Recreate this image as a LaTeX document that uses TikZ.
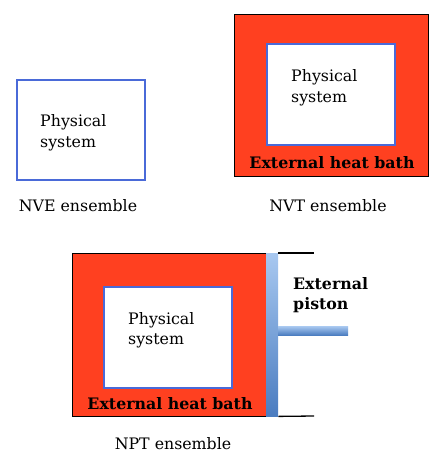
\documentclass[tikz,border=0pt]{standalone}
\usepackage{fontspec}
\setmainfont{DejaVu Serif}
\usetikzlibrary{shadows}
\definecolor{bath}{HTML}{FF4020}
\definecolor{sysblue}{HTML}{4A6AD8}
\definecolor{pistlight}{HTML}{A8C8F0}
\definecolor{pistdark}{HTML}{4A7CC0}
\begin{document}
\begin{tikzpicture}[x=1pt,y=-1pt,
  sysbox/.style={draw=sysblue, line width=1.8pt, fill=white, anchor=north west,
    drop shadow={shadow xshift=1.2pt, shadow yshift=-1.2pt, opacity=0.35}},
  bathbox/.style={draw=black, line width=1.3pt, fill=bath, anchor=north west},
  lbl/.style={font=\fontsize{15.8}{20.5}\selectfont, align=left, inner sep=0pt},
  blbl/.style={font=\fontsize{15.8}{20.5}\selectfont\bfseries, align=left, inner sep=0pt},
  pistonbar/.style={draw=none, top color=pistlight, bottom color=pistdark, anchor=north west, inner sep=0pt},
  wall/.style={line width=1.3pt, draw=black}
]
\useasboundingbox (0,0) rectangle (437,462);

% NVE
\node[sysbox, minimum width=128, minimum height=100] (nve) at (16,79) {};
\node[lbl, anchor=west] (nvetxt) at (40,133) {Physical\\system};
\node[lbl] (nvelab) at (78,206) {NVE ensemble};

% NVT
\node[bathbox, minimum width=194, minimum height=162] (nvtbath) at (234,14) {};
\node[sysbox, minimum width=128, minimum height=101] (nvtsys) at (266,43) {};
\node[lbl, anchor=west] (nvttxt) at (291,88) {Physical\\system};
\node[blbl] (nvtbathlab) at (332,163) {External heat bath};
\node[lbl] (nvtlab) at (328,206) {NVT ensemble};

% NPT
\node[bathbox, minimum width=194, minimum height=163] (nptbath) at (72,253) {};
\node[sysbox, minimum width=128, minimum height=101] (nptsys) at (103,286) {};
\node[lbl, anchor=west] (npttxt) at (128,330) {Physical\\system};
\node[blbl] (nptbathlab) at (170,404) {External heat bath};
\node[lbl] (nptlab) at (173,444) {NPT ensemble};

% piston
\node[pistonbar, minimum width=12, minimum height=163] (bar) at (266,253) {};
\node[pistonbar, minimum width=70, minimum height=9] (rod) at (278,326) {};
\coordinate (topend) at (314,253);
\coordinate (botend) at (314,416);
\draw[wall] (bar.north east) -- (topend);
\draw[wall] (bar.south east) -- (botend);
\node[blbl, anchor=west] (pistlab) at (293,295) {External\\piston};
\end{tikzpicture}
\end{document}
